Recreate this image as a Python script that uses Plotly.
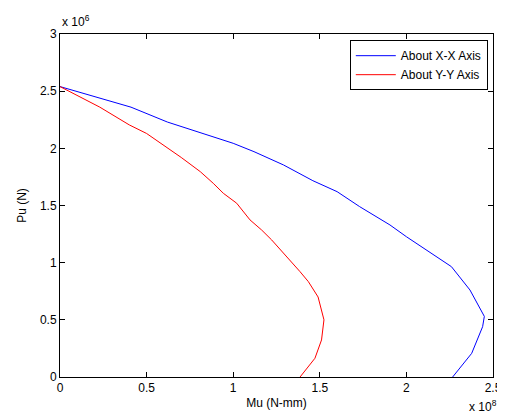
import plotly.graph_objects as go

# Mu in units of 1e8 N-mm, Pu in units of 1e6 N
mu_xx = [0, 0.41, 0.62, 0.81, 1.0, 1.12, 1.29, 1.46, 1.60, 1.73, 1.905, 2.0, 2.26, 2.367, 2.45, 2.44, 2.377, 2.267]
pu_xx = [2.54, 2.36, 2.23, 2.137, 2.044, 1.971, 1.855, 1.717, 1.621, 1.49, 1.33, 1.227, 0.965, 0.761, 0.53, 0.44, 0.207, 0.0]

mu_yy = [0, 0.23, 0.40, 0.50, 0.70, 0.81, 0.885, 0.943, 1.02, 1.097, 1.164, 1.222, 1.386, 1.434, 1.49, 1.524, 1.51, 1.472, 1.386]
pu_yy = [2.54, 2.36, 2.205, 2.13, 1.92, 1.796, 1.694, 1.607, 1.52, 1.374, 1.286, 1.199, 0.921, 0.834, 0.70, 0.50, 0.324, 0.164, 0.0]

x_ticks = [0, 0.5, 1, 1.5, 2, 2.5]
y_ticks = [0, 0.5, 1, 1.5, 2, 2.5, 3]

FONT = "Liberation Sans, Arial, sans-serif"
FS = 12

fig = go.Figure()
fig.add_trace(go.Scatter(x=mu_xx, y=pu_xx, mode="lines", name="About X-X Axis",
                         line=dict(color="#0000ff", width=1)))
fig.add_trace(go.Scatter(x=mu_yy, y=pu_yy, mode="lines", name="About Y-Y Axis",
                         line=dict(color="#ff0000", width=1)))

axis_common = dict(showgrid=False, zeroline=False, showline=True, linecolor="black",
                   linewidth=1, mirror="ticks", ticks="inside", ticklen=5,
                   tickcolor="black", automargin=False,
                   tickfont=dict(family=FONT, size=FS, color="black"))

# page body has an 8px margin, so the figure is sized 8px smaller
fig.update_layout(
    width=497, height=408,
    margin=dict(l=52, r=12, t=26, b=39),
    paper_bgcolor="white", plot_bgcolor="white",
    font=dict(family=FONT, size=FS, color="black"),
    xaxis=dict(range=[0, 2.5], tickvals=x_ticks,
               title=dict(text="Mu (N-mm)", font=dict(family=FONT, size=FS), standoff=4),
               **axis_common),
    yaxis=dict(range=[0, 3], tickvals=y_ticks,
               title=dict(text="Pu (N)", font=dict(family=FONT, size=FS), standoff=10),
               **axis_common),
    legend=dict(x=0.988, y=0.982, xanchor="right", yanchor="top",
                bgcolor="white", bordercolor="black", borderwidth=1,
                font=dict(family=FONT, size=FS), tracegroupgap=0,
                entrywidth=148, entrywidthmode="pixels", itemwidth=40),
    showlegend=True,
    annotations=[
        dict(text="x 10<sup>6</sup>", xref="paper", yref="paper", x=0, y=1,
             xanchor="left", yanchor="bottom", yshift=3, showarrow=False,
             font=dict(family=FONT, size=FS)),
        dict(text="x 10<sup>8</sup>", xref="paper", yref="paper", x=1.0, y=0,
             xanchor="right", yanchor="bottom", xshift=6, yshift=-39, showarrow=False,
             font=dict(family=FONT, size=FS)),
    ],
)

fig.write_html("out.html")
